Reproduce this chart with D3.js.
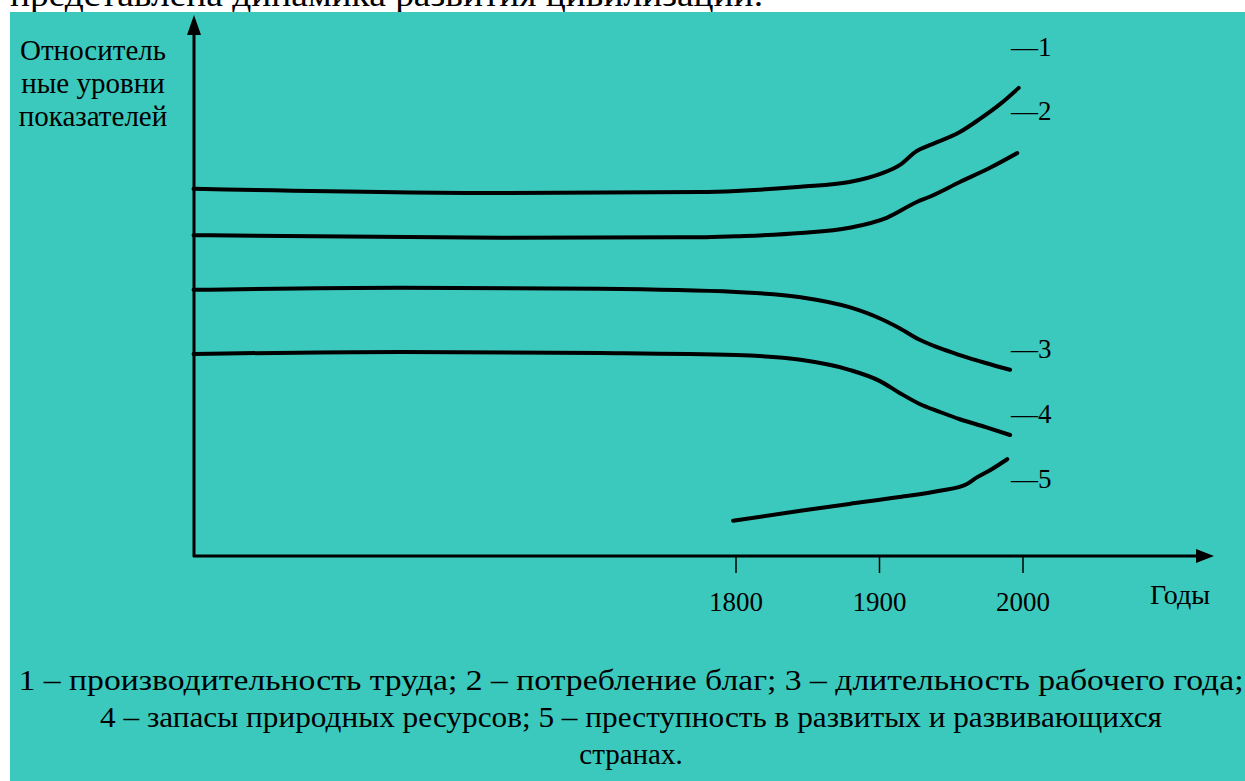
<!DOCTYPE html>
<html lang="ru">
<head>
<meta charset="utf-8">
<title>Динамика развития цивилизации</title>
<script src="https://cdn.jsdelivr.net/npm/d3@7"></script>
<style>
  body { margin: 0; background: #fff; }
</style>
</head>
<body>
<script>
// data (years, relative level 0..100)
var years1 = [1422, 1636, 1775, 1800, 1845, 1879, 1902, 1914, 1926, 1935, 1956, 1970, 1984, 1997];
var level1 = [69.8, 69.0, 69.2, 69.4, 70.2, 71.1, 72.8, 74.3, 77.0, 78.1, 80.6, 83.1, 85.9, 89.0];

var years2 = [1422, 1636, 1775, 1800, 1845, 1879, 1905, 1926, 1935, 1956, 1977, 1996];
var level2 = [61.0, 60.5, 60.6, 60.8, 61.4, 62.4, 64.3, 67.3, 68.3, 71.1, 73.8, 76.6];

var years3 = [1422, 1566, 1705, 1800, 1845, 1879, 1900, 1914, 1928, 1942, 1956, 1974, 1991];
var level3 = [50.6, 51.0, 50.8, 50.2, 49.2, 47.3, 45.2, 43.3, 41.1, 39.5, 38.2, 36.7, 35.4];

var years4 = [1422, 1566, 1705, 1800, 1845, 1879, 1900, 1914, 1928, 1942, 1956, 1974, 1991];
var level4 = [38.4, 38.8, 38.6, 38.2, 37.3, 35.4, 33.3, 31.0, 28.9, 27.4, 26.0, 24.5, 23.0];

var years5 = [1798, 1845, 1879, 1914, 1942, 1961, 1967, 1977, 1989];
var level5 = [6.7, 8.6, 9.9, 11.2, 12.4, 13.7, 14.8, 16.3, 18.4];

var tickYears = [1800, 1900, 2000];
var seriesNames = ["1", "2", "3", "4", "5"];
var nameLevels = [95.1, 82.9, 37.6, 25.3, 12.9];

var yLabel = ["Относитель", "ные уровни", "показателей"];
var xLabel = "Годы";
var captionLines = [
  "1 – производительность труда; 2 – потребление благ; 3 – длительность рабочего года;",
  "4 – запасы природных ресурсов; 5 – преступность в развитых и развивающихся",
  "странах."
];
var topText = "представлена динамика развития цивилизации.";

var FONT = "'Liberation Serif'";

var W = 1245, H = 781;
var svg = d3.select("body").append("svg")
  .attr("width", W)
  .attr("height", H);

// cut-off sentence above the picture
svg.append("text")
  .attr("x", 10).attr("y", 6)
  .attr("font-family", FONT)
  .attr("font-size", 33)
  .attr("textLength", 753)
  .attr("lengthAdjust", "spacingAndGlyphs")
  .text(topText);

// teal panel
svg.append("rect")
  .attr("x", 10).attr("y", 12)
  .attr("width", W - 10).attr("height", H - 12)
  .attr("fill", "#3cc9bd");

var x = d3.scaleLinear().domain([1800, 2000]).range([736, 1023]);
var y = d3.scaleLinear().domain([0, 100]).range([556, 30]);

var x0 = 194, y0 = 556;

// axes
svg.append("line")
  .attr("x1", x0).attr("y1", y0 + 1)
  .attr("x2", x0).attr("y2", 30)
  .attr("stroke", "#000").attr("stroke-width", 3);
svg.append("path")
  .attr("d", "M" + x0 + ",15 L" + (x0 - 7) + ",35 L" + (x0 + 7) + ",35 Z")
  .attr("fill", "#000");

svg.append("line")
  .attr("x1", x0 - 1).attr("y1", y0)
  .attr("x2", 1200).attr("y2", y0)
  .attr("stroke", "#000").attr("stroke-width", 3);
svg.append("path")
  .attr("d", "M1214," + y0 + " L1196," + (y0 - 7) + " L1196," + (y0 + 7) + " Z")
  .attr("fill", "#000");

// ticks
svg.selectAll(".tick").data(tickYears).enter().append("line")
  .attr("class", "tick")
  .attr("x1", function (d) { return x(d); })
  .attr("x2", function (d) { return x(d); })
  .attr("y1", y0).attr("y2", y0 + 17)
  .attr("stroke", "#000").attr("stroke-width", 1.5);

svg.selectAll(".tlab").data(tickYears).enter().append("text")
  .attr("class", "tlab")
  .attr("x", function (d) { return x(d); })
  .attr("y", 611)
  .attr("text-anchor", "middle")
  .attr("font-family", FONT)
  .attr("font-size", 27)
  .text(function (d) { return d; });

svg.append("text")
  .attr("x", 1180).attr("y", 604)
  .attr("text-anchor", "middle")
  .attr("font-family", FONT)
  .attr("font-size", 28)
  .text(xLabel);

// y label
svg.selectAll(".ylab").data(yLabel).enter().append("text")
  .attr("class", "ylab")
  .attr("x", 93)
  .attr("y", function (d, i) { return 60 + i * 33; })
  .attr("text-anchor", "middle")
  .attr("font-family", FONT)
  .attr("font-size", 29)
  .text(function (d) { return d; });

// curves
var series = [[years1, level1], [years2, level2], [years3, level3], [years4, level4], [years5, level5]];
var line = d3.line()
  .x(function (d) { return x(d[0]); })
  .y(function (d) { return y(d[1]); })
  .curve(d3.curveMonotoneX);

svg.selectAll(".curve").data(series).enter().append("path")
  .attr("class", "curve")
  .attr("d", function (s) { return line(d3.zip(s[0], s[1])); })
  .attr("fill", "none")
  .attr("stroke", "#000")
  .attr("stroke-width", 4)
  .attr("stroke-linecap", "round");

// series numbers on the right
svg.selectAll(".sname").data(seriesNames).enter().append("text")
  .attr("class", "sname")
  .attr("x", 1011)
  .attr("y", function (d, i) { return y(nameLevels[i]); })
  .attr("font-family", FONT)
  .attr("font-size", 27)
  .text(function (d) { return "—" + d; });

// caption (first two lines are stretched to the widths seen in the picture)
var capWidths = [1225, 1062, null];
svg.selectAll(".cap").data(captionLines).enter().append("text")
  .attr("class", "cap")
  .attr("x", 631)
  .attr("y", function (d, i) { return 690 + i * 37; })
  .attr("text-anchor", "middle")
  .attr("font-family", FONT)
  .attr("font-size", 29)
  .attr("textLength", function (d, i) { return capWidths[i]; })
  .attr("lengthAdjust", "spacingAndGlyphs")
  .text(function (d) { return d; });
</script>
</body>
</html>
